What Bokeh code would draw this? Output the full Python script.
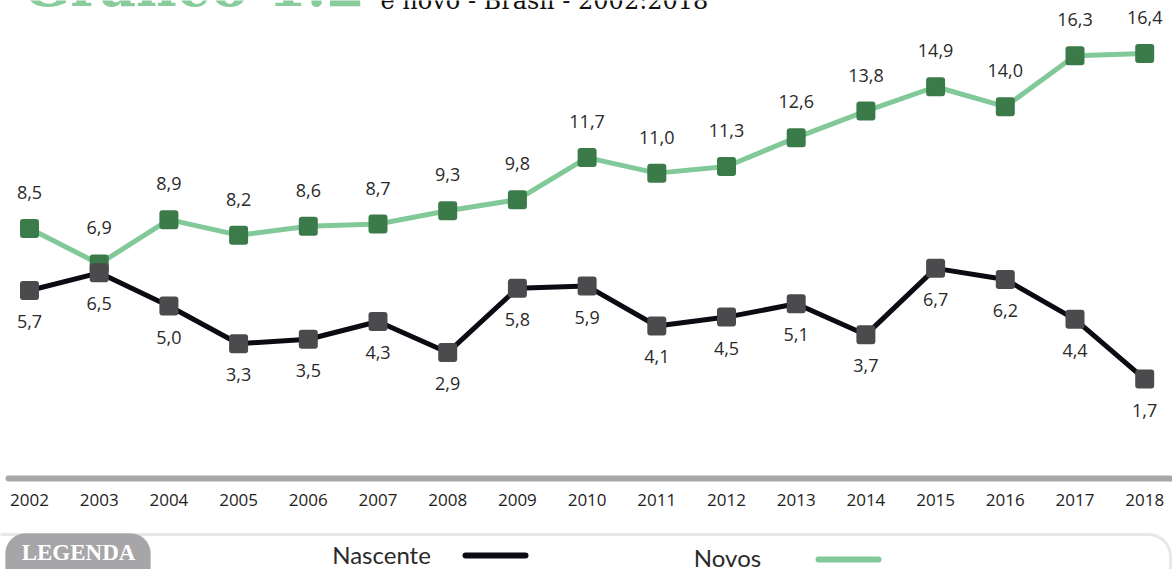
from bokeh.plotting import figure
from bokeh.models import Range1d, BoxAnnotation
from bokeh.core.properties import value
from bokeh.embed import file_html
from bokeh.resources import INLINE

# ---- data ----
years = [2002, 2003, 2004, 2005, 2006, 2007, 2008, 2009, 2010,
         2011, 2012, 2013, 2014, 2015, 2016, 2017, 2018]
year_labels = [str(y) for y in years]
novos = [8.5, 6.9, 8.9, 8.2, 8.6, 8.7, 9.3, 9.8, 11.7,
         11.0, 11.3, 12.6, 13.8, 14.9, 14.0, 16.3, 16.4]
nascente = [5.7, 6.5, 5.0, 3.3, 3.5, 4.3, 2.9, 5.8, 5.9,
            4.1, 4.5, 5.1, 3.7, 6.7, 6.2, 4.4, 1.7]
series_names = ["Nascente", "Novos"]
title_text = "Gráfico 1.2"
subtitle_text = "e novo - Brasil - 2002:2018"
legend_title = "LEGENDA"

def fmt(v):
    return f"{v:.1f}".replace(".", ",")

# ---- layout (pixel space mapping) ----
W, H = 1172, 569
DX = 69.7      # px per year
VY = 22.15     # px per unit
x_start = 2002 - 29 / DX
x_end = x_start + W / DX
y_top = 8.5 + 228 / VY
y_bot = y_top - H / VY

def px_x(px):
    return x_start + px / DX

def px_y(py):
    return y_top - py / VY

p = figure(width=W, height=H, x_range=Range1d(x_start, x_end),
           y_range=Range1d(y_bot, y_top), output_backend="svg",
           toolbar_location=None, min_border=0, x_axis_type=None,
           y_axis_type=None)
p.grid.visible = False
p.outline_line_color = None
p.background_fill_color = "white"
p.border_fill_color = "white"

GREEN_LINE = "#82c99a"
GREEN_MARK = "#3b7b4a"
BLACK_LINE = "#0b0b13"
GRAY_MARK = "#4b4b4d"
TXT = "#2a2a2a"
LABEL_FONT = value("Open Sans")

# legend box (behind everything)
p.add_layout(BoxAnnotation(left=px_x(-20), right=px_x(1170), top=px_y(534), bottom=px_y(640),
                           fill_color=None, fill_alpha=0, line_color="#b3b3b5", line_width=3,
                           border_radius=22, level="underlay"))
p.add_layout(BoxAnnotation(left=px_x(5), right=px_x(150), top=px_y(533), bottom=px_y(600),
                           fill_color="#a6a6a8", fill_alpha=1, line_color="#a6a6a8",
                           line_width=1, border_radius=20, level="underlay"))

# title (cut off at top as in reference)
p.text(x=[px_x(22)], y=[px_y(-15)], text=[title_text], text_font=value("DejaVu Serif"),
       text_font_style="bold", text_font_size="56px", text_color="#88cc9c",
       text_baseline="alphabetic", text_align="left")
p.text(x=[px_x(380)], y=[px_y(0)], text=[subtitle_text], text_font=value("DejaVu Serif"),
       text_font_size="24px", text_color="#111111",
       text_baseline="alphabetic", text_align="left")

# Novos
p.line(years, novos, line_color=GREEN_LINE, line_width=5, line_join="round")
p.scatter(years, novos, marker="square", size=13, fill_color=GREEN_MARK,
          line_color=GREEN_MARK, line_width=6, line_join="round")
p.text(years, novos, text=[fmt(v) for v in novos], y_offset=-36,
       text_align="center", text_baseline="middle", text_font=LABEL_FONT,
       text_font_size="18px", text_color=TXT)

# Nascente
p.line(years, nascente, line_color=BLACK_LINE, line_width=5, line_join="round")
p.scatter(years, nascente, marker="square", size=13, fill_color=GRAY_MARK,
          line_color=GRAY_MARK, line_width=6, line_join="round")
p.text(years, nascente, text=[fmt(v) for v in nascente], y_offset=31,
       text_align="center", text_baseline="middle", text_font=LABEL_FONT,
       text_font_size="18px", text_color=TXT)

# axis line and year labels
p.segment(x0=[px_x(8)], y0=[px_y(478)], x1=[px_x(1190)], y1=[px_y(478)],
          line_color="#a7a7a9", line_width=6, line_cap="round")
p.text(years, [px_y(499)] * len(years), text=year_labels, text_align="center",
       text_baseline="middle", text_font=LABEL_FONT, text_font_size="17px",
       text_color="#1e1e1e")

# legend contents
p.text(x=[px_x(78)], y=[px_y(552)], text=[legend_title], text_font=value("Liberation Serif"),
       text_font_style="bold", text_font_size="23px", text_color="white",
       text_align="center", text_baseline="middle")
p.text(x=[px_x(381)], y=[px_y(554)], text=[series_names[0]], text_font=value("Lato"),
       text_font_size="24px", text_color=TXT, text_align="center", text_baseline="middle")
p.segment(x0=[px_x(465)], y0=[px_y(555)], x1=[px_x(525)], y1=[px_y(555)],
          line_color=BLACK_LINE, line_width=6, line_cap="round")
p.text(x=[px_x(727)], y=[px_y(557)], text=[series_names[1]], text_font=value("Lato"),
       text_font_size="24px", text_color=TXT, text_align="center", text_baseline="middle")
p.segment(x0=[px_x(818)], y0=[px_y(559)], x1=[px_x(878)], y1=[px_y(559)],
          line_color=GREEN_LINE, line_width=6, line_cap="round")

open("out.html", "w").write(file_html(p, INLINE))
